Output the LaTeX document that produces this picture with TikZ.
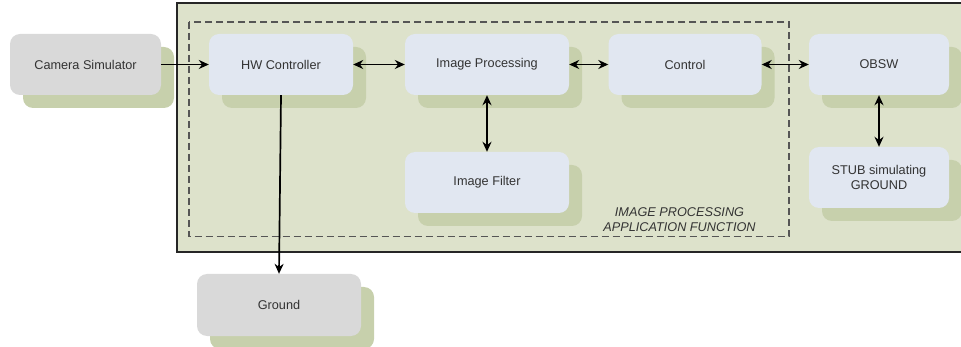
\documentclass[tikz,border=0pt]{standalone}
\usepackage{fontspec}
\setmainfont{Liberation Sans}
\usetikzlibrary{shadows,arrows.meta}
\definecolor{bgreen}{RGB}{221,226,203}
\definecolor{shgreen}{RGB}{199,208,172}
\definecolor{boxblue}{RGB}{225,231,241}
\definecolor{boxgrey}{RGB}{217,217,217}
\definecolor{txt}{RGB}{51,51,51}
\definecolor{dashc}{RGB}{85,85,85}
\begin{document}
\begin{tikzpicture}[x=1pt,y=-1pt,
  blk/.style={rounded corners=10pt, fill=boxblue, text=txt, inner sep=0pt,
    font=\fontsize{12.7}{15}\selectfont, align=center,
    general shadow={fill=shgreen, shadow xshift=13pt, shadow yshift=-13pt}},
  gblk/.style={blk, fill=boxgrey},
  conn/.style={line width=1.7pt, -{Stealth[length=10pt,width=9pt]}},
  bconn/.style={line width=1.7pt, {Stealth[length=10pt,width=9pt]}-{Stealth[length=10pt,width=9pt]}}]
\useasboundingbox (0,0) rectangle (961,347);
\draw[fill=bgreen, draw=black!85, line width=2pt] (177,3.5) rectangle (968,252.5);
\draw[dashc, dash pattern=on 7pt off 4pt, line width=1.5pt] (189,22) rectangle (789,236.5);
\node[gblk, minimum width=151pt, minimum height=61pt] (cam) at (85.5,64.5) {Camera Simulator};
\node[blk, minimum width=144pt, minimum height=61pt] (hw) at (281,64.5) {HW Controller};
\node[blk, minimum width=164pt, minimum height=61pt] (ip) at (487,64.5) {Image Processing};
\node[blk, minimum width=153pt, minimum height=61pt] (ctl) at (685,64.5) {Control};
\node[blk, minimum width=140pt, minimum height=61pt] (obsw) at (879,64.5) {OBSW};
\node[blk, minimum width=164pt, minimum height=61pt] (flt) at (487,182.5) {Image Filter};
\node[blk, minimum width=140pt, minimum height=61pt] (stub) at (879,177.5) {STUB simulating\\GROUND};
\node[gblk, minimum width=164pt, minimum height=62pt] (gnd) at (279,305) {Ground};
\node[text=txt, font=\fontsize{12.7}{15}\itshape, align=center, inner sep=0pt] (lbl) at (679.5,219.5) {IMAGE PROCESSING\\APPLICATION FUNCTION};
\draw[conn] (cam) -- (hw);
\draw[bconn] (hw) -- (ip);
\draw[bconn] (ip) -- (ctl);
\draw[bconn] (ctl) -- (obsw);
\draw[bconn] (ip) -- (flt);
\draw[bconn] (obsw) -- (stub);
\draw[conn] (hw.south) -- (gnd.north);
\end{tikzpicture}
\end{document}
